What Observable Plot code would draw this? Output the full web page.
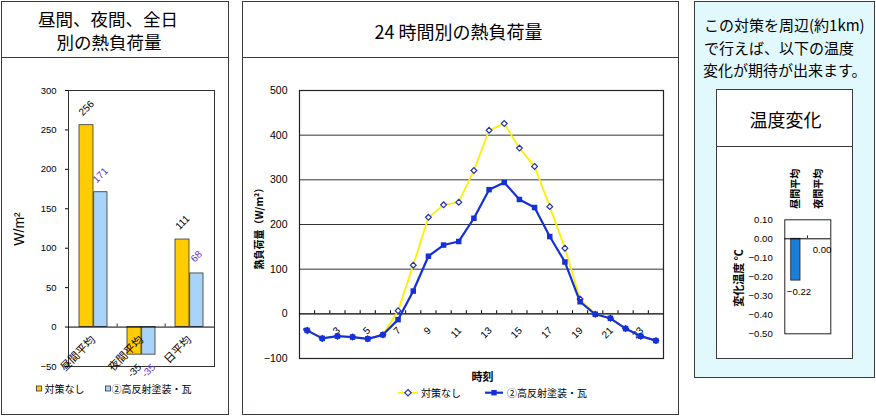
<!DOCTYPE html>
<html><head><meta charset="utf-8">
<script src="https://cdn.jsdelivr.net/npm/d3@7"></script>
<script src="https://cdn.jsdelivr.net/npm/@observablehq/plot@0.6"></script>
<style>
body{margin:0;width:876px;height:416px;position:relative;background:#fff;overflow:hidden;font-family:"Liberation Sans","Noto Sans CJK JP",sans-serif;color:#000}
.box{position:absolute;border:1.5px solid #3f3a3a;box-sizing:border-box}
.sep{position:absolute;height:1.5px;background:#3f3a3a}
.t{position:absolute;white-space:nowrap;line-height:1}
.w{position:absolute}
</style></head>
<body>
<div class="box" style="left:1px;top:1px;width:228px;height:414px"></div>
<div class="sep" style="left:1px;top:56.5px;width:228px"></div>
<div class="box" style="left:242px;top:1px;width:437px;height:414px"></div>
<div class="sep" style="left:242px;top:56.5px;width:437px"></div>
<div class="box" style="left:694px;top:1px;width:181px;height:377px;background:#e1f8fd"></div>
<div class="box" style="left:716px;top:89px;width:137px;height:270px;background:#fff"></div>
<div class="sep" style="left:716px;top:145.5px;width:137px"></div>
<div id="left" class="w" style="left:0;top:60px"></div>
<div id="mid" class="w" style="left:243px;top:60px"></div>
<div id="right" class="w" style="left:717px;top:147px"></div>
<svg id="legsw" class="w" style="left:0;top:0" width="876" height="416"></svg>
<script>
const leftCats = ["昼間平均", "夜間平均", "日平均"];
const leftNone = [256, -35, 111];
const leftCoat = [171, -35, 68];
const leftTicks = [-50, 0, 50, 100, 150, 200, 250, 300];
const seriesNames = ["対策なし", "②高反射塗装・瓦"];

const hours = [1,2,3,4,5,6,7,8,9,10,11,12,13,14,15,16,17,18,19,20,21,22,23,24];
const hourNone = [-37,-55,-50,-52,-56,-47,7,109,216,244,250,321,411,426,371,330,240,147,33,-1,-10,-33,-50,-60];
const hourCoat = [-37,-55,-50,-52,-56,-47,-13,51,129,154,162,214,278,294,256,238,173,116,27,-1,-10,-33,-50,-60];
const hourLabels = [1,3,5,7,9,11,13,15,17,19,21,23];
const midTicks = [-100, 0, 100, 200, 300, 400, 500];
const midGrid = [100, 200, 300, 400];

const tempCats = ["昼間平均", "夜間平均"];
const tempVals = [-0.22, 0.00];
const tempTicks = [0.1, 0, -0.1, -0.2, -0.3, -0.4, -0.5];

const F = '"Liberation Sans","Noto Sans CJK JP",sans-serif';
const JP = '"Noto Sans CJK JP","Liberation Sans",sans-serif';
const YEL = "#ffcc00", LBLUE = "#a9d4f9", PURP = "#6633cc";
const LYEL = "#ffee00", DBLUE = "#1530d8", NAVY = "#2233aa";

function txt(s, x, y, size, opt = {}) {
  const d = document.createElement("div");
  d.className = "t";
  d.textContent = s;
  d.style.fontSize = size + "px";
  d.style.fontFamily = opt.font || JP;
  if (opt.weight) d.style.fontWeight = opt.weight;
  d.style.left = x + "px";
  d.style.top = y + "px";
  let tr = opt.anchor === "middle" ? "translate(-50%,-50%)" : "translate(0,-50%)";
  if (opt.rotate) tr += ` rotate(${opt.rotate}deg)`;
  d.style.transform = tr;
  document.body.appendChild(d);
}

// Titles and texts
txt("昼間、夜間、全日", 108, 18.5, 17.5, {anchor: "middle"});
txt("別の熱負荷量", 109, 42, 17.5, {anchor: "middle"});
txt("24 時間別の熱負荷量", 458.5, 31, 18, {anchor: "middle"});
txt("この対策を周辺(約1km)", 704, 24, 15);
txt("で行えば、以下の温度", 704, 46.5, 15);
txt("変化が期待が出来ます。", 703, 69, 15);
txt("温度変化", 785.5, 119, 18, {anchor: "middle"});

// axis titles
txt("W/m²", 19, 229, 14, {anchor: "middle", rotate: -90, font: F});
txt("熱負荷量（W/m²）", 259, 226, 10, {anchor: "middle", rotate: -90, weight: "bold"});
txt("時刻", 482.5, 376, 11, {anchor: "middle", weight: "bold"});
txt("変化温度 ℃", 738, 278, 11, {anchor: "middle", rotate: -90, weight: "bold"});

// legends text
txt(seriesNames[0], 44.5, 388.5, 10);
txt(seriesNames[1], 111.5, 388.5, 10);
txt(seriesNames[0], 421, 392.7, 10);
txt(seriesNames[1], 507, 392.7, 10);

// legend swatches
const sw = d3.select("#legsw");
sw.append("rect").attr("x", 36.5).attr("y", 386).attr("width", 5).attr("height", 5).attr("fill", YEL).attr("stroke", "#333").attr("stroke-width", 0.8);
sw.append("rect").attr("x", 105.5).attr("y", 386).attr("width", 5).attr("height", 5).attr("fill", LBLUE).attr("stroke", "#333").attr("stroke-width", 0.8);
sw.append("line").attr("x1", 398).attr("x2", 418).attr("y1", 392.7).attr("y2", 392.7).attr("stroke", LYEL).attr("stroke-width", 1.8);
sw.append("path").attr("d", "M408,389.5L411.2,392.7L408,395.9L404.8,392.7Z").attr("fill", "#fff").attr("stroke", NAVY).attr("stroke-width", 1.2);
sw.append("line").attr("x1", 485).attr("x2", 503).attr("y1", 392.7).attr("y2", 392.7).attr("stroke", DBLUE).attr("stroke-width", 2.2);
sw.append("rect").attr("x", 491.3).attr("y", 390).attr("width", 5.4).attr("height", 5.4).attr("fill", DBLUE);

// Left chart
const leftRows = leftCats.map((c, i) => ({c, none: leftNone[i], coat: leftCoat[i]}));
const bw = 146 / 3;
document.getElementById("left").appendChild(Plot.plot({
  width: 228, height: 350,
  marginLeft: 68, marginRight: 14, marginTop: 30, marginBottom: 44,
  style: {background: "none", fontFamily: F, fontSize: "9.5px", color: "#000"},
  x: {type: "band", domain: leftCats, padding: 0, axis: null},
  y: {domain: [-50, 300], ticks: leftTicks, tickSize: 3, tickPadding: 9, label: null},
  marks: [
    Plot.barY(leftRows, {x: "c", y: "none", fill: YEL, stroke: "#333", strokeWidth: 0.8, insetLeft: 10, insetRight: 24}),
    Plot.barY(leftRows, {x: "c", y: "coat", fill: LBLUE, stroke: "#333", strokeWidth: 0.8, insetLeft: 24.7, insetRight: 10}),
    Plot.frame({stroke: "#333", strokeWidth: 1}),
    Plot.ruleY([0], {stroke: "#000", strokeWidth: 1}),
    Plot.ruleX(leftCats.slice(1), {x: d => d, y1: 0, y2: 4, dx: -bw / 2, stroke: "#333"}),
    Plot.text(leftRows.filter(d => d.none >= 0), {x: "c", y: "none", text: d => String(d.none), dx: -7, dy: -17, rotate: -45, fill: "#000", fontSize: 10}),
    Plot.text(leftRows.filter(d => d.coat >= 0), {x: "c", y: "coat", text: d => String(d.coat), dx: 7, dy: -17, rotate: -45, fill: PURP, fontSize: 10}),
    Plot.text(leftRows.filter(d => d.none < 0), {x: "c", y: "none", text: d => String(d.none), dx: -7, dy: 16, rotate: -45, fill: "#000", fontSize: 10}),
    Plot.text(leftRows.filter(d => d.coat < 0), {x: "c", y: "coat", text: d => String(d.coat), dx: 7, dy: 16, rotate: -45, fill: PURP, fontSize: 10}),
    Plot.text(leftCats, {x: d => d, y: 0, text: d => d, rotate: -45, textAnchor: "end", dy: 11, fontSize: 11, fontFamily: JP, fill: "#000"})
  ]
}));

// Middle chart
const midRows = hours.map((h, i) => ({h, none: hourNone[i], coat: hourCoat[i]}));
document.getElementById("mid").appendChild(Plot.plot({
  width: 435, height: 350,
  marginLeft: 56, marginRight: 15, marginTop: 30, marginBottom: 52,
  style: {background: "none", fontFamily: F, fontSize: "10.5px", color: "#000"},
  x: {type: "linear", domain: [0.5, 24.5], axis: null},
  y: {domain: [-100, 500], ticks: midTicks, tickSize: 0, tickPadding: 12, label: null},
  marks: [
    Plot.ruleY(midGrid, {stroke: "#333", strokeWidth: 1}),
    Plot.frame({stroke: "#222", strokeWidth: 1.2}),
    Plot.ruleY([0], {stroke: "#000", strokeWidth: 1.2}),
    Plot.ruleX(hours.slice(0, -1), {x: d => d + 0.5, y1: 0, y2: 7, stroke: "#000"}),
    Plot.text(hourLabels, {x: d => d, y: 0, text: d => String(d), rotate: -45, textAnchor: "end", dy: 15, dx: 1, fontSize: 10, fill: "#000"}),
    Plot.line(midRows, {x: "h", y: "none", stroke: LYEL, strokeWidth: 1.8}),
    Plot.dot(midRows, {x: "h", y: "none", symbol: "diamond2", r: 2.6, fill: "#fff", stroke: NAVY, strokeWidth: 1.2}),
    Plot.line(midRows, {x: "h", y: "coat", stroke: DBLUE, strokeWidth: 2.2}),
    Plot.dot(midRows, {x: "h", y: "coat", symbol: "square", r: 3.1, fill: DBLUE, stroke: "none"})
  ]
}));

// Right chart
const tempRows = tempCats.map((c, i) => ({c, v: tempVals[i]}));
const fmt = d3.format(".2f");
document.getElementById("right").appendChild(Plot.plot({
  width: 135, height: 210,
  marginLeft: 67.3, marginRight: 21.7, marginTop: 72.3, marginBottom: 23.7,
  style: {background: "none", fontFamily: F, fontSize: "9.6px", color: "#000"},
  x: {type: "band", domain: tempCats, padding: 0, axis: null},
  y: {domain: [-0.5, 0.1], ticks: tempTicks, tickFormat: fmt, tickSize: 0, tickPadding: 12, label: null},
  marks: [
    Plot.barY(tempRows, {x: "c", y: "v", fill: "#1a7fd9", stroke: "#223", strokeWidth: 0.8, insetLeft: 6.7, insetRight: 7}),
    Plot.frame({stroke: "#222", strokeWidth: 1}),
    Plot.ruleY([0], {stroke: "#000", strokeWidth: 1}),
    Plot.ruleX(tempCats.slice(1), {x: d => d, y1: 0, y2: 0.015, dx: -11.5, stroke: "#333"}),
    Plot.text(tempRows, {x: "c", y: "v", text: d => fmt(d.v), dx: 3, dy: 11, fontSize: 9.6, fill: "#000"}),
    Plot.text(tempCats, {x: d => d, y: 0.1, text: d => d, rotate: -90, textAnchor: "start", dy: -11, fontSize: 10, fontWeight: "bold", fontFamily: JP, fill: "#000"})
  ]
}));
</script>
</body></html>
